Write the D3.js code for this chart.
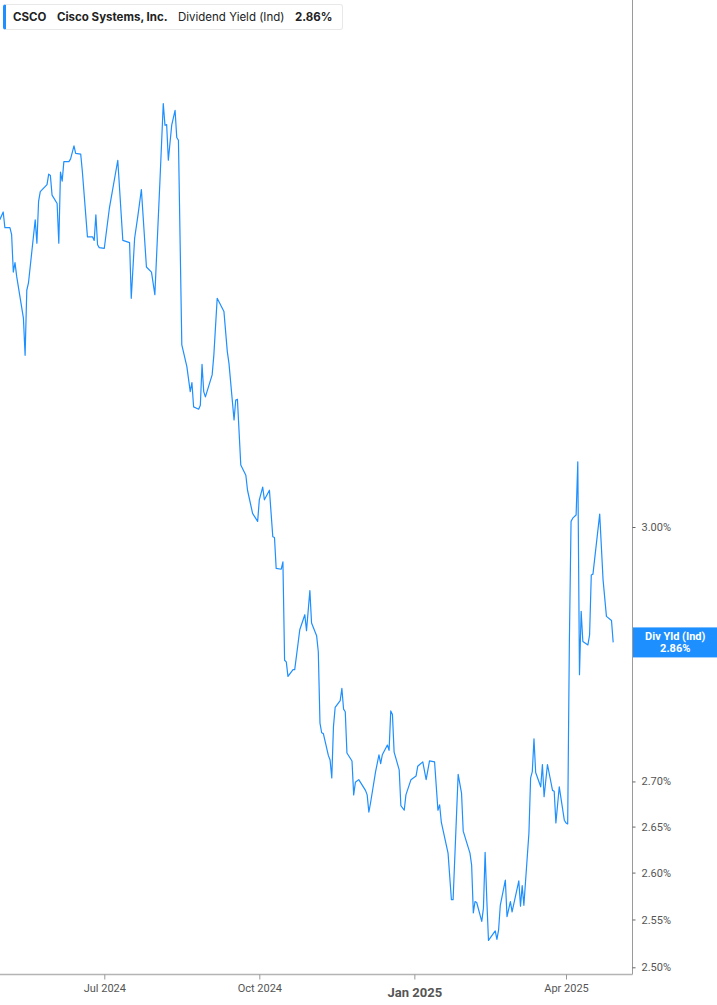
<!DOCTYPE html>
<html>
<head>
<meta charset="utf-8">
<script src="https://cdn.jsdelivr.net/npm/d3@7"></script>
<style>
  body { margin: 0; background: #fff; }
  #wrap { position: relative; width: 717px; height: 1005px; }
  #legend {
    position: absolute; left: 3px; top: 4px; width: 340px; height: 26px;
    border: 1px solid #e8e8e8; border-left: 3px solid #1e8fff; border-radius: 3px;
    box-sizing: border-box;
  }
  .lg {
    position: absolute; top: 10px; line-height: 14px;
    font-family: Inter, "Noto Sans", sans-serif; font-size: 11.5px; color: #222;
    white-space: nowrap;
  }
  .lg.b { font-weight: 700; }
</style>
</head>
<body>
<div id="wrap">
  <svg id="vis" width="717" height="1005"></svg>
  <div id="legend"></div>
</div>
<script>
// CSCO dividend yield (indicated), %
const dates = [
  "2024-04-30","2024-05-02","2024-05-03","2024-05-06","2024-05-07","2024-05-08","2024-05-09","2024-05-10",
  "2024-05-14","2024-05-15","2024-05-16","2024-05-17","2024-05-21","2024-05-22","2024-05-23","2024-05-24",
  "2024-05-28","2024-05-29","2024-05-30","2024-05-31","2024-06-03","2024-06-04","2024-06-05","2024-06-06",
  "2024-06-07","2024-06-10","2024-06-11","2024-06-13","2024-06-14","2024-06-17","2024-06-18","2024-06-21",
  "2024-06-24","2024-06-25","2024-06-26","2024-06-27","2024-06-28","2024-07-01","2024-07-04","2024-07-09",
  "2024-07-12","2024-07-16","2024-07-17","2024-07-19","2024-07-21","2024-07-23","2024-07-26","2024-07-29",
  "2024-07-31","2024-08-03","2024-08-05","2024-08-06","2024-08-07","2024-08-08","2024-08-10","2024-08-12",
  "2024-08-13","2024-08-14","2024-08-16","2024-08-19","2024-08-21","2024-08-22","2024-08-23","2024-08-26",
  "2024-08-27","2024-08-28","2024-08-29","2024-08-30","2024-09-03","2024-09-04","2024-09-06","2024-09-10",
  "2024-09-12","2024-09-13","2024-09-16","2024-09-17","2024-09-18","2024-09-20","2024-09-23","2024-09-24",
  "2024-09-27","2024-09-30","2024-10-01","2024-10-03","2024-10-04","2024-10-07","2024-10-09","2024-10-10",
  "2024-10-11","2024-10-14","2024-10-15","2024-10-16","2024-10-17","2024-10-18","2024-10-21","2024-10-22",
  "2024-10-24","2024-10-25","2024-10-28","2024-10-29","2024-10-31","2024-11-01","2024-11-04","2024-11-05",
  "2024-11-06","2024-11-07","2024-11-08","2024-11-11","2024-11-12","2024-11-13","2024-11-14","2024-11-15",
  "2024-11-18","2024-11-19","2024-11-20","2024-11-21","2024-11-22","2024-11-25","2024-11-26","2024-11-27",
  "2024-11-29","2024-12-03","2024-12-04","2024-12-05","2024-12-06","2024-12-09","2024-12-11","2024-12-12",
  "2024-12-13","2024-12-16","2024-12-17","2024-12-18","2024-12-19","2024-12-20","2024-12-23","2024-12-24",
  "2024-12-26","2024-12-27","2024-12-30","2025-01-02","2025-01-03","2025-01-06","2025-01-08","2025-01-10",
  "2025-01-13","2025-01-15","2025-01-16","2025-01-17","2025-01-21","2025-01-23","2025-01-24","2025-01-27",
  "2025-01-29","2025-01-30","2025-02-03","2025-02-04","2025-02-05","2025-02-06","2025-02-07","2025-02-10",
  "2025-02-11","2025-02-12","2025-02-13","2025-02-14","2025-02-18","2025-02-19","2025-02-20","2025-02-21",
  "2025-02-24","2025-02-25","2025-02-27","2025-02-28","2025-03-04","2025-03-05","2025-03-06","2025-03-07",
  "2025-03-10","2025-03-11","2025-03-12","2025-03-13","2025-03-14","2025-03-17","2025-03-18","2025-03-19",
  "2025-03-21","2025-03-24","2025-03-25","2025-03-26","2025-03-28","2025-03-31","2025-04-01","2025-04-02",
  "2025-04-03","2025-04-04","2025-04-05","2025-04-07","2025-04-08","2025-04-09","2025-04-10","2025-04-11",
  "2025-04-14","2025-04-15","2025-04-16","2025-04-17","2025-04-21","2025-04-23","2025-04-25","2025-04-28",
  "2025-04-29"
];
const yields = [
  3.407,3.418,3.396,3.396,3.386,3.334,3.347,3.328,
  3.271,3.221,3.309,3.319,3.407,3.374,3.433,3.447,
  3.457,3.472,3.470,3.442,3.430,3.374,3.475,3.462,
  3.490,3.490,3.494,3.513,3.502,3.501,3.475,3.383,
  3.383,3.378,3.414,3.372,3.368,3.367,3.423,3.492,
  3.378,3.375,3.298,3.381,3.414,3.450,3.341,3.334,
  3.303,3.461,3.575,3.543,3.544,3.492,3.543,3.565,
  3.525,3.521,3.235,3.206,3.173,3.185,3.153,3.150,
  3.155,3.209,3.173,3.166,3.195,3.221,3.298,3.280,
  3.226,3.210,3.136,3.162,3.163,3.078,3.065,3.046,
  3.017,3.007,3.034,3.050,3.034,3.046,2.988,2.987,
  2.949,2.948,2.957,2.839,2.837,2.820,2.828,2.828,
  2.859,2.875,2.893,2.874,2.922,2.883,2.868,2.849,
  2.766,2.755,2.754,2.729,2.724,2.704,2.762,2.784,
  2.792,2.806,2.782,2.779,2.732,2.723,2.685,2.699,
  2.702,2.690,2.685,2.666,2.676,2.711,2.730,2.720,
  2.730,2.741,2.735,2.780,2.776,2.733,2.713,2.673,
  2.668,2.685,2.702,2.706,2.717,2.722,2.702,2.723,
  2.722,2.668,2.674,2.655,2.621,2.571,2.571,2.708,
  2.687,2.645,2.621,2.608,2.557,2.569,2.568,2.548,
  2.562,2.622,2.571,2.528,2.538,2.529,2.539,2.565,
  2.592,2.553,2.569,2.558,2.591,2.564,2.586,2.565,
  2.643,2.704,2.711,2.748,2.710,2.694,2.719,2.683,
  2.719,2.690,2.689,2.654,2.694,2.657,2.654,2.653,
  2.861,3.007,3.011,3.015,3.082,2.822,2.897,2.861,
  2.857,2.869,2.941,2.942,3.016,2.935,2.891,2.886,
  2.860
];

const yTicks = [2.50, 2.55, 2.60, 2.65, 2.70, 3.00];
const xTickDates = ["2024-07-01", "2024-10-01", "2025-01-01", "2025-04-01"];
const xTickLabels = ["Jul 2024", "Oct 2024", "Jan 2025", "Apr 2025"];
const yearStart = "Jan 2025"; // drawn bold

const ticker = "CSCO";
const company = "Cisco Systems, Inc.";
const metric = "Dividend Yield (Ind)";
const lastLabel = "Div Yld (Ind)";

const BLUE = "#1e8fff";
const parse = d3.utcParse("%Y-%m-%d");
const data = dates.map((d, i) => ({ date: parse(d), value: yields[i] }));
const last = data[data.length - 1];

const plotRight = 632.5;
const plotBottom = 974.5;

const svg = d3.select("#vis");

// time scale: Jul 1 2024 .. Apr 1 2025 across the tick positions
const x = d3.scaleUtc()
  .domain([parse(xTickDates[0]), parse(xTickDates[3])])
  .range([104.3, 566]);

// log scale on the yield
const y = d3.scaleLog()
  .domain([2.5, 3.0])
  .range([967.3, 527]);

svg.append("defs").append("clipPath").attr("id", "clip")
  .append("rect").attr("x", 0).attr("y", 0)
  .attr("width", plotRight).attr("height", plotBottom);

// line
const line = d3.line()
  .x(d => x(d.date))
  .y(d => y(d.value));

svg.append("path")
  .datum(data)
  .attr("clip-path", "url(#clip)")
  .attr("fill", "none")
  .attr("stroke", BLUE)
  .attr("stroke-width", 1.2)
  .attr("stroke-linejoin", "round")
  .attr("d", line);

// frame lines
svg.append("line")
  .attr("x1", plotRight).attr("x2", plotRight)
  .attr("y1", 0).attr("y2", plotBottom)
  .attr("stroke", "#9a9a9a").attr("stroke-width", 1);
svg.append("line")
  .attr("x1", 0).attr("x2", plotRight)
  .attr("y1", plotBottom).attr("y2", plotBottom)
  .attr("stroke", "#b4b4b4").attr("stroke-width", 1.5);

// y axis (right)
const yAxis = svg.append("g")
  .attr("transform", `translate(${plotRight},0)`)
  .call(d3.axisRight(y)
    .tickValues(yTicks)
    .tickSize(3)
    .tickPadding(6)
    .tickFormat(d => d.toFixed(2) + "%"));
yAxis.select(".domain").remove();
yAxis.selectAll(".tick line").attr("stroke", "#666");
yAxis.selectAll(".tick text")
  .attr("fill", "#555")
  .attr("font-family", "Roboto, sans-serif")
  .attr("font-size", 11);

// x axis (bottom)
const xAxis = svg.append("g")
  .attr("transform", `translate(0,${plotBottom})`)
  .call(d3.axisBottom(x)
    .tickValues(xTickDates.map(parse))
    .tickSize(5)
    .tickPadding(5)
    .tickFormat((d, i) => xTickLabels[i]));
xAxis.select(".domain").remove();
xAxis.selectAll(".tick line").attr("stroke", "#999");
xAxis.selectAll(".tick text")
  .attr("fill", "#555")
  .attr("font-family", "Roboto, sans-serif")
  .attr("font-size", 11)
  .filter((d, i) => xTickLabels[i] === yearStart)
  .attr("font-size", 13)
  .attr("font-weight", 700)
  .attr("dy", "0.95em");

// last value tag
const tagY = y(last.value);
const tag = svg.append("g").attr("transform", `translate(${plotRight + 0.5},${tagY})`);
tag.append("rect")
  .attr("x", 0).attr("y", -15)
  .attr("width", 717 - plotRight).attr("height", 30)
  .attr("fill", BLUE);
tag.append("text")
  .attr("x", (717 - plotRight) / 2).attr("y", -2)
  .attr("text-anchor", "middle")
  .attr("fill", "#fff").attr("font-weight", 700)
  .attr("font-family", "Roboto, sans-serif").attr("font-size", 11)
  .text(lastLabel);
tag.append("text")
  .attr("x", (717 - plotRight) / 2).attr("y", 10)
  .attr("text-anchor", "middle")
  .attr("fill", "#fff").attr("font-weight", 700)
  .attr("font-family", "Roboto, sans-serif").attr("font-size", 11)
  .text(last.value.toFixed(2) + "%");

// legend: ticker, company, metric, last value
const legendItems = [
  { text: ticker, bold: true, left: 13 },
  { text: company, bold: true, left: 57 },
  { text: metric, bold: false, left: 178 },
  { text: last.value.toFixed(2) + "%", bold: true, left: 295 }
];
d3.select("#wrap").selectAll("span.lg")
  .data(legendItems)
  .join("span")
  .attr("class", d => d.bold ? "lg b" : "lg")
  .style("left", d => d.left + "px")
  .text(d => d.text);
</script>
</body>
</html>
